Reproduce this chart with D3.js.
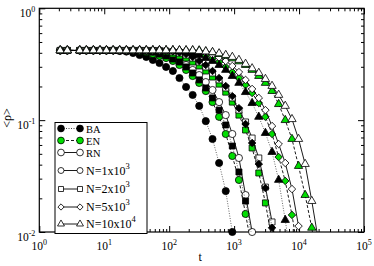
<!DOCTYPE html>
<html>
<head>
<meta charset="utf-8">
<script src="https://cdn.jsdelivr.net/npm/d3@7"></script>
<style>
  body { margin: 0; background: #fff; }
  svg { display: block; font-family: "Liberation Serif", "DejaVu Serif", serif; }
</style>
</head>
<body>
<div id="container"></div>
<script>
const w = 374;
const h = 266;
const p = {top: 8.3, right: 10, bottom: 34, left: 39.3};

// time samples (shared by all runs)
const tGrid = [2.1, 2.7, 4.2, 5.3, 6.8, 8.6, 10.8, 13.7, 17.3, 21.9, 27.8, 35.1, 44.4,
  56.1, 70.9, 89.6, 114, 144, 182, 230, 290, 366, 465, 587, 743, 938, 1186, 1500,
  1893, 2400, 3034, 3837, 4850, 6125, 7780, 9820, 12400, 15700, 19800];

// <rho> for each run
const rhoBA1 = [0.42, 0.42, 0.42, 0.42, 0.42, 0.42, 0.42, 0.42, 0.415, 0.41, 0.398, 0.382,
  0.367, 0.345, 0.324, 0.299, 0.275, 0.238, 0.198, 0.168, 0.134, 0.098, 0.0678, 0.0414,
  0.0232, 0.0100];
const rhoEN1 = [0.42, 0.42, 0.42, 0.42, 0.42, 0.42, 0.42, 0.42, 0.42, 0.42, 0.42, 0.415,
  0.407, 0.39, 0.375, 0.359, 0.338, 0.311, 0.281, 0.248, 0.215, 0.182, 0.145, 0.107,
  0.0752, 0.0478, 0.0292, 0.0145, 0.0069];
const rhoRN1 = [0.42, 0.42, 0.42, 0.42, 0.42, 0.42, 0.42, 0.42, 0.42, 0.42, 0.42, 0.42,
  0.415, 0.407, 0.398, 0.382, 0.359, 0.338, 0.311, 0.281, 0.253, 0.219, 0.186, 0.145,
  0.111, 0.0752, 0.0459, 0.0214, 0.0100];
const rhoBA2 = [0.42, 0.42, 0.42, 0.42, 0.42, 0.42, 0.42, 0.42, 0.42, 0.42, 0.42, 0.42,
  0.415, 0.407, 0.39, 0.375, 0.352, 0.331, 0.299, 0.264, 0.229, 0.194, 0.158, 0.123,
  0.0905, 0.0587, 0.0344, 0.0189, 0.00884];
const rhoEN2 = [0.42, 0.42, 0.42, 0.42, 0.42, 0.42, 0.42, 0.42, 0.42, 0.42, 0.42, 0.42,
  0.42, 0.42, 0.415, 0.407, 0.39, 0.375, 0.359, 0.331, 0.305, 0.275, 0.243, 0.21, 0.178,
  0.145, 0.111, 0.0816, 0.0564, 0.0337, 0.0182, 0.00848];
const rhoRN2 = [0.42, 0.42, 0.42, 0.42, 0.42, 0.42, 0.42, 0.42, 0.42, 0.42, 0.42, 0.42,
  0.42, 0.42, 0.42, 0.415, 0.407, 0.398, 0.382, 0.359, 0.331, 0.299, 0.264, 0.229, 0.194,
  0.158, 0.123, 0.0963, 0.0692, 0.0459, 0.0252, 0.0123, 0.0051];
const rhoBA5 = [0.42, 0.42, 0.42, 0.42, 0.42, 0.42, 0.42, 0.42, 0.42, 0.42, 0.42, 0.42,
  0.42, 0.42, 0.42, 0.415, 0.411, 0.403, 0.39, 0.367, 0.338, 0.311, 0.275, 0.238, 0.202,
  0.164, 0.128, 0.0924, 0.0625, 0.0405, 0.0247, 0.0109, 0.0046];
const rhoEN5 = [0.42, 0.42, 0.42, 0.42, 0.42, 0.42, 0.42, 0.42, 0.42, 0.42, 0.42, 0.42,
  0.42, 0.42, 0.42, 0.42, 0.42, 0.42, 0.415, 0.407, 0.394, 0.378, 0.359, 0.331, 0.299,
  0.269, 0.238, 0.206, 0.175, 0.142, 0.107, 0.0752, 0.0468, 0.0286, 0.0142, 0.0062];
const rhoRN5 = [0.42, 0.42, 0.42, 0.42, 0.42, 0.42, 0.42, 0.42, 0.42, 0.42, 0.42, 0.42,
  0.42, 0.42, 0.42, 0.42, 0.42, 0.42, 0.42, 0.415, 0.407, 0.398, 0.382, 0.363, 0.338,
  0.305, 0.269, 0.229, 0.19, 0.158, 0.123, 0.0886, 0.0612, 0.0414, 0.0242, 0.0113, 0.0046];
const rhoBA10 = [0.42, 0.42, 0.42, 0.42, 0.42, 0.42, 0.42, 0.42, 0.42, 0.42, 0.42, 0.42,
  0.42, 0.42, 0.42, 0.42, 0.42, 0.415, 0.407, 0.398, 0.382, 0.359, 0.338, 0.311, 0.281,
  0.248, 0.215, 0.178, 0.142, 0.107, 0.0767, 0.0519, 0.0292, 0.0128, 0.0051];
const rhoEN10 = [0.42, 0.42, 0.42, 0.42, 0.42, 0.42, 0.42, 0.42, 0.42, 0.42, 0.42, 0.42,
  0.42, 0.42, 0.42, 0.42, 0.42, 0.42, 0.42, 0.42, 0.42, 0.411, 0.403, 0.39, 0.375, 0.356,
  0.335, 0.311, 0.281, 0.248, 0.215, 0.182, 0.139, 0.1, 0.0678, 0.0389, 0.0214, 0.0109, 0.0046];
const rhoRN10 = [0.42, 0.42, 0.42, 0.42, 0.42, 0.42, 0.42, 0.42, 0.42, 0.42, 0.42, 0.42,
  0.42, 0.42, 0.42, 0.42, 0.42, 0.42, 0.42, 0.42, 0.415, 0.411, 0.405, 0.395, 0.382, 0.367,
  0.345, 0.318, 0.29, 0.264, 0.233, 0.202, 0.168, 0.134, 0.102, 0.0678, 0.0405, 0.0189, 0.00848];

const xTickExp = [0, 1, 2, 3, 4, 5];
const yTickExp = [0, -1, -2];
const legendNets = ['BA', 'EN', 'RN'];
const legendSizes = [['1', '3'], ['2', '3'], ['5', '3'], ['10', '4']];

const series = [
  {net: 'BA', n: 1, rho: rhoBA1}, {net: 'EN', n: 1, rho: rhoEN1}, {net: 'RN', n: 1, rho: rhoRN1},
  {net: 'BA', n: 2, rho: rhoBA2}, {net: 'EN', n: 2, rho: rhoEN2}, {net: 'RN', n: 2, rho: rhoRN2},
  {net: 'BA', n: 5, rho: rhoBA5}, {net: 'EN', n: 5, rho: rhoEN5}, {net: 'RN', n: 5, rho: rhoRN5},
  {net: 'BA', n: 10, rho: rhoBA10}, {net: 'EN', n: 10, rho: rhoEN10}, {net: 'RN', n: 10, rho: rhoRN10}
];

const fillOf = {BA: '#000', EN: '#00dd00', RN: '#fff'};
const dashOf = {BA: '1,1.5', EN: '3,2', RN: null};
const lineCol = {BA: '#555', EN: '#000', RN: '#000'};

const symOf = (n, s) => {
  if (n === 1) return d3.symbol(d3.symbolCircle, 40 * s)();
  if (n === 2) return d3.symbol(d3.symbolSquare, 36 * s)();
  if (n === 5) return d3.symbol(d3.symbolSquare, 28 * s)();
  return d3.symbol(d3.symbolTriangle, 30 * s)();
};
const rotOf = n => n === 5 ? ' rotate(45)' : '';

const svg = d3.select('#container')
  .append('svg')
  .attr('width', w)
  .attr('height', h)
  .attr('viewBox', [0, 0, w, h]);

const x = d3.scaleLog().domain([1, 1e5]).range([p.left, w - p.right]);
const y = d3.scaleLog().domain([0.01, 1]).range([h - p.bottom, p.top]);

svg.append('clipPath').attr('id', 'clip')
  .append('rect')
  .attr('x', p.left).attr('y', p.top)
  .attr('width', w - p.right - p.left).attr('height', h - p.bottom - p.top);

// ticks, all pointing inward
const majX = xTickExp.map(e => Math.pow(10, e));
const minX = d3.range(0, 5).flatMap(e => d3.range(2, 10).map(k => k * Math.pow(10, e)));
const majY = yTickExp.map(e => Math.pow(10, e));
const minY = d3.range(-2, 0).flatMap(e => d3.range(2, 10).map(k => k * Math.pow(10, e)));

const addAx = (axis, tr, vals, size) => {
  svg.append('g')
    .attr('transform', tr)
    .call(axis.tickValues(vals).tickSize(-size).tickFormat(''))
    .call(g => g.select('.domain').remove())
    .call(g => g.selectAll('line').attr('stroke', '#000').attr('stroke-width', 1));
};
addAx(d3.axisBottom(x), `translate(0,${h - p.bottom})`, majX, 6);
addAx(d3.axisBottom(x), `translate(0,${h - p.bottom})`, minX, 3);
addAx(d3.axisTop(x), `translate(0,${p.top})`, majX, 6);
addAx(d3.axisTop(x), `translate(0,${p.top})`, minX, 3);
addAx(d3.axisLeft(y), `translate(${p.left},0)`, majY, 6);
addAx(d3.axisLeft(y), `translate(${p.left},0)`, minY, 3);
addAx(d3.axisRight(y), `translate(${w - p.right},0)`, majY, 6);
addAx(d3.axisRight(y), `translate(${w - p.right},0)`, minY, 3);

svg.append('rect')
  .attr('x', p.left).attr('y', p.top)
  .attr('width', w - p.right - p.left).attr('height', h - p.bottom - p.top)
  .attr('fill', 'none').attr('stroke', '#000').attr('stroke-width', 1.2);

// tick labels 10^k
svg.selectAll('.xlab')
  .data(xTickExp)
  .enter()
  .append('text')
  .attr('class', 'xlab')
  .attr('x', e => x(Math.pow(10, e)))
  .attr('y', h - p.bottom + 17.5)
  .attr('text-anchor', 'middle')
  .attr('font-size', 11.5)
  .each(function(e) {
    const t = d3.select(this);
    t.append('tspan').text('10');
    t.append('tspan').attr('dy', -5).attr('font-size', 8).text(e);
  });

svg.selectAll('.ylab')
  .data(yTickExp)
  .enter()
  .append('text')
  .attr('class', 'ylab')
  .attr('x', p.left - 4)
  .attr('y', e => y(Math.pow(10, e)) + 9)
  .attr('text-anchor', 'end')
  .attr('font-size', 11.5)
  .each(function(e) {
    const t = d3.select(this);
    t.append('tspan').text('10');
    t.append('tspan').attr('dy', -5).attr('font-size', 8).text(e === 0 ? '0' : '-' + (-e));
  });

svg.append('text')
  .attr('x', x(1e3) - 34)
  .attr('y', h - 5)
  .attr('text-anchor', 'middle')
  .attr('font-size', 12)
  .text('t');

svg.append('text')
  .attr('transform', 'translate(10.5,118) rotate(-90)')
  .attr('text-anchor', 'middle')
  .attr('font-size', 12)
  .text('<ρ>');

// curves
const line = d3.line()
  .x(d => x(d.t))
  .y(d => y(d.r));

const plot = svg.append('g');
series.forEach(s => {
  const pts = s.rho.map((r, i) => ({t: tGrid[i], r: r}));
  plot.append('path')
    .datum(pts)
    .attr('clip-path', 'url(#clip)')
    .attr('fill', 'none')
    .attr('stroke', lineCol[s.net])
    .attr('stroke-width', 0.9)
    .attr('stroke-dasharray', dashOf[s.net])
    .attr('d', line);
  plot.append('g')
    .selectAll('path')
    .data(pts.filter(d => d.r >= 0.0099))
    .enter()
    .append('path')
    .attr('transform', d => `translate(${x(d.t)},${y(d.r)})` + rotOf(s.n))
    .attr('d', symOf(s.n, 1))
    .attr('fill', fillOf[s.net])
    .attr('stroke', '#000')
    .attr('stroke-width', 0.8);
});

// legend
const lg = svg.append('g');
lg.append('rect')
  .attr('x', 55).attr('y', 122.5)
  .attr('width', 92).attr('height', 111)
  .attr('fill', '#fff').attr('stroke', '#000').attr('stroke-width', 1);

const rows = legendNets.map(k => ({label: k, net: k, n: 1}))
  .concat(legendSizes.map((s, i) => ({label: 'N=' + s[0] + 'x10', sup: s[1], net: 'RN', n: [1, 2, 5, 10][i]})));
const rowY = [128.5, 140.5, 152.5, 170.5, 189, 207, 224];

rows.forEach((r, i) => {
  const yy = rowY[i];
  const sc = i < 3 ? 0.9 : 0.7;
  lg.append('line')
    .attr('x1', 61).attr('x2', 80).attr('y1', yy).attr('y2', yy)
    .attr('stroke', i === 0 ? '#333' : '#000')
    .attr('stroke-width', 0.9)
    .attr('stroke-dasharray', dashOf[r.net]);
  [61, 80].forEach(xx => {
    lg.append('path')
      .attr('transform', `translate(${xx},${yy})` + rotOf(r.n))
      .attr('d', symOf(r.n, sc))
      .attr('fill', fillOf[r.net])
      .attr('stroke', '#000')
      .attr('stroke-width', 0.8);
  });
  const t = lg.append('text')
    .attr('x', 86).attr('y', yy + 4)
    .attr('font-size', i < 3 ? 10.5 : 12);
  t.append('tspan').text(r.label);
  if (r.sup) t.append('tspan').attr('dy', -6).attr('font-size', 8.5).text(r.sup);
});
</script>
</body>
</html>
